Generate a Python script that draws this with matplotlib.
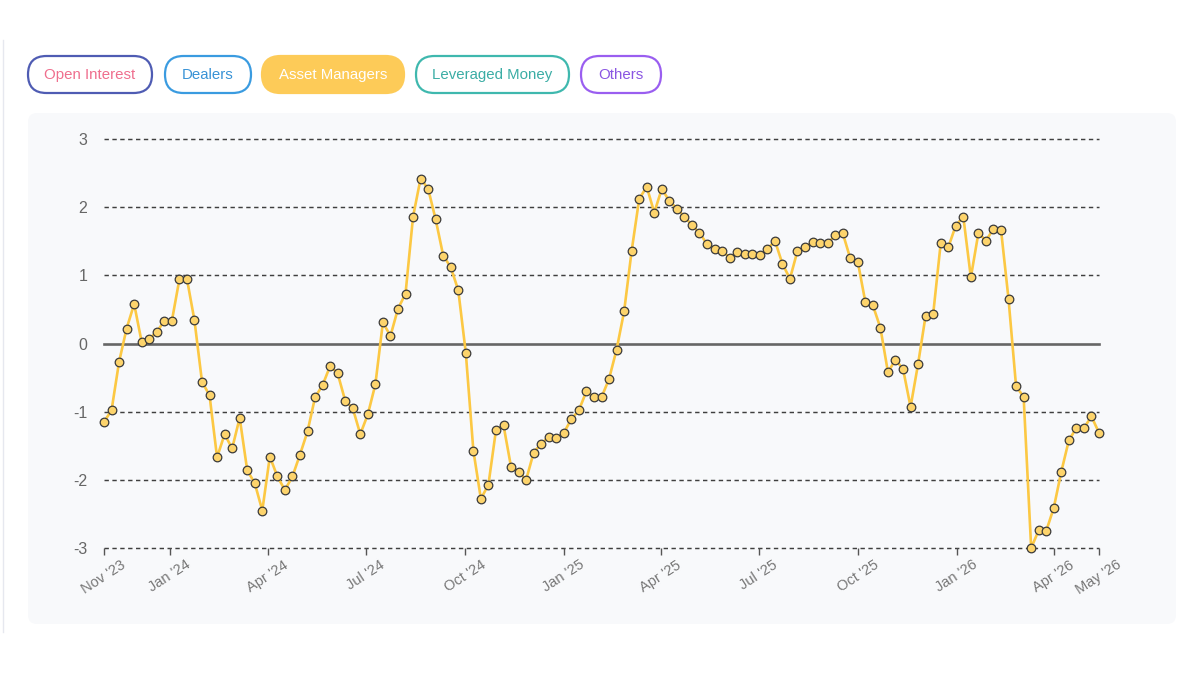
import numpy as np
import pandas as pd
import matplotlib
matplotlib.use("Agg")
import matplotlib.pyplot as plt
from matplotlib.patches import FancyBboxPatch

plt.rcParams['font.family'] = ['Liberation Sans', 'DejaVu Sans']
plt.rcParams['axes.unicode_minus'] = False

# weekly z-score of asset manager positioning
values = [
    -1.15, -0.98, -0.27, 0.22, 0.58, 0.02, 0.07, 0.17, 0.33, 0.33,
    0.94, 0.95, 0.34, -0.56, -0.76, -1.67, -1.33, -1.54, -1.09, -1.86,
    -2.05, -2.45, -1.66, -1.95, -2.15, -1.95, -1.63, -1.29, -0.79, -0.61,
    -0.33, -0.44, -0.84, -0.95, -1.33, -1.04, -0.60, 0.31, 0.11, 0.51,
    0.73, 1.86, 2.42, 2.27, 1.82, 1.29, 1.12, 0.78, -0.14, -1.57,
    -2.28, -2.07, -1.27, -1.20, -1.81, -1.88, -2.00, -1.60, -1.47, -1.37,
    -1.39, -1.31, -1.11, -0.98, -0.70, -0.79, -0.79, -0.52, -0.09, 0.47,
    1.36, 2.12, 2.30, 1.92, 2.27, 2.09, 1.98, 1.86, 1.74, 1.62,
    1.46, 1.39, 1.36, 1.26, 1.34, 1.31, 1.32, 1.30, 1.38, 1.51,
    1.17, 0.95, 1.36, 1.41, 1.49, 1.47, 1.47, 1.59, 1.62, 1.25,
    1.20, 0.61, 0.56, 0.23, -0.42, -0.24, -0.37, -0.93, -0.30, 0.41,
    0.43, 1.47, 1.41, 1.73, 1.86, 0.97, 1.62, 1.51, 1.68, 1.67,
    0.65, -0.63, -0.78, -3.00, -2.74, -2.75, -2.41, -1.88, -1.42, -1.24,
    -1.24, -1.07, -1.31,
]
dates = pd.date_range('2023-11-01', periods=len(values), freq='7D')

y_ticks = [-3, -2, -1, 0, 1, 2, 3]
tick_dates = [dates[0], pd.Timestamp('2024-01-01'), pd.Timestamp('2024-04-01'),
              pd.Timestamp('2024-07-01'), pd.Timestamp('2024-10-01'),
              pd.Timestamp('2025-01-01'), pd.Timestamp('2025-04-01'),
              pd.Timestamp('2025-07-01'), pd.Timestamp('2025-10-01'),
              pd.Timestamp('2026-01-01'), pd.Timestamp('2026-04-01'), dates[-1]]
tick_labels = ["Nov '23", "Jan '24", "Apr '24", "Jul '24", "Oct '24", "Jan '25",
               "Apr '25", "Jul '25", "Oct '25", "Jan '26", "Apr '26", "May '26"]

buttons = ["Open Interest", "Dealers", "Asset Managers", "Leveraged Money", "Others"]
active = "Asset Managers"
btn_text = ['#ef6f8e', '#3993d6', '#ffffff', '#3bada5', '#8a56e2']
btn_edge = ['#4f5cb3', '#3a9be0', '#fdcb58', '#3fb8ae', '#9a5ef0']
btn_x = [(28, 152), (165, 251), (262, 404), (416, 569), (581, 661)]

fig = plt.figure(figsize=(12, 6.75), dpi=100)

bg = fig.add_axes([0, 0, 1, 1], zorder=0)
bg.set_xlim(0, 1200)
bg.set_ylim(675, 0)
bg.axis('off')
bg.plot([3, 3], [40, 632], color='#e6e8ef', lw=1)
bg.add_patch(FancyBboxPatch((28, 113), 1148, 511, boxstyle="round,pad=0,rounding_size=9",
                            fc='#f8f9fb', ec='none'))
for name, tc, ec, (x0, x1) in zip(buttons, btn_text, btn_edge, btn_x):
    fc = ec if name == active else 'white'
    bg.add_patch(FancyBboxPatch((x0, 56), x1 - x0, 37, boxstyle="round,pad=0,rounding_size=18.5",
                                fc=fc, ec=ec, lw=1.6))
    bg.text((x0 + x1) / 2, 75, name, ha='center', va='center', fontsize=10.8, color=tc)

ax = fig.add_axes([104 / 1200, 127 / 675, 995 / 1200, 409 / 675], zorder=1)
ax.patch.set_alpha(0)
for s in ax.spines.values():
    s.set_visible(False)

ax.set_yticks(y_ticks)
ax.set_ylim(-3, 3)
for yv in y_ticks:
    if yv == 0:
        ax.axhline(0, color='#666666', lw=1.9, zorder=2, clip_on=False)
    else:
        ax.axhline(yv, ls=(0, (3, 2.4)), color='#3f3f3f', lw=1.05, zorder=1, clip_on=False)

ax.plot(dates, values, color='#fcc843', lw=1.9, marker='o', ms=6.2,
        mfc='#fdd46c', mec='#3a3a3a', mew=0.9, clip_on=False, zorder=3)

ax.set_xlim(dates[0], dates[-1])
ax.set_xticks(tick_dates)
ax.set_xticklabels(tick_labels, rotation=33)
ax.tick_params(axis='x', length=5, color='#555555', width=1, labelsize=10.5,
               labelcolor='#777777', pad=2)
ax.tick_params(axis='y', length=0, pad=12, labelsize=11.5, labelcolor='#666666')

fig.savefig('out.png', dpi=100)
